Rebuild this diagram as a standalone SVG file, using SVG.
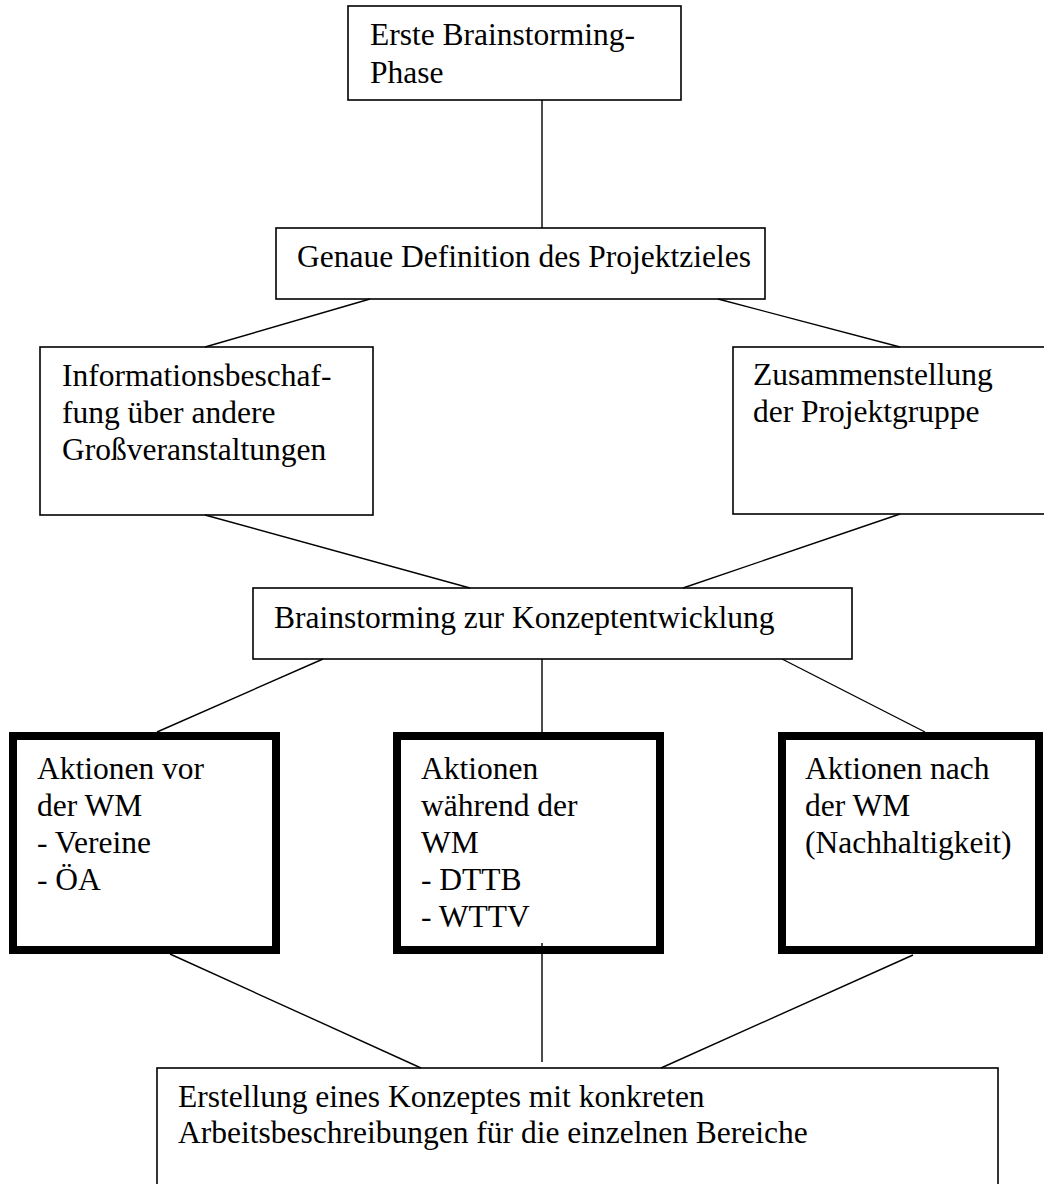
<svg xmlns="http://www.w3.org/2000/svg" width="1044" height="1184" viewBox="0 0 1044 1184">
<style>
.box{fill:#fff;stroke:#000;stroke-width:1.6}
.thick{fill:#fff;stroke:#000;stroke-width:8}
.t{font-family:"Liberation Serif","Times New Roman",serif;font-size:31.5px;fill:#000}
.c{stroke:#000;stroke-width:1.4;fill:none}
</style>
<rect width="1044" height="1184" fill="#fff"/>
<g id="n1"><rect class="box" x="348" y="6" width="333" height="94"/>
<text class="t" x="370" y="45">Erste Brainstorming-</text><text class="t" x="370" y="83">Phase</text></g>
<g id="n2"><rect class="box" x="276" y="228" width="489" height="71"/>
<text class="t" x="297" y="267">Genaue Definition des Projektzieles</text></g>
<g id="n3"><rect class="box" x="40" y="347" width="333" height="168"/>
<text class="t" x="62" y="386">Informationsbeschaf-</text><text class="t" x="62" y="423">fung über andere</text><text class="t" x="62" y="460">Großveranstaltungen</text></g>
<g id="n4"><rect class="box" x="733" y="347" width="320" height="167"/>
<text class="t" x="753" y="385">Zusammenstellung</text><text class="t" x="753" y="422">der Projektgruppe</text></g>
<g id="n5"><rect class="box" x="253" y="588" width="599" height="71"/>
<text class="t" x="274" y="628">Brainstorming zur Konzeptentwicklung</text></g>
<g id="n6"><rect class="thick" x="13" y="736" width="263" height="214"/>
<text class="t" x="37" y="779">Aktionen vor</text><text class="t" x="37" y="816">der WM</text><text class="t" x="37" y="853">- Vereine</text><text class="t" x="37" y="890">- ÖA</text></g>
<g id="n7"><rect class="thick" x="397" y="736" width="263" height="214"/>
<text class="t" x="421" y="779">Aktionen</text><text class="t" x="421" y="816">während der</text><text class="t" x="421" y="853">WM</text><text class="t" x="421" y="890">- DTTB</text><text class="t" x="421" y="927">- WTTV</text></g>
<g id="n8"><rect class="thick" x="782" y="736" width="257" height="214"/>
<text class="t" x="805" y="779">Aktionen nach</text><text class="t" x="805" y="816">der WM</text><text class="t" x="805" y="853">(Nachhaltigkeit)</text></g>
<g id="n9"><rect class="box" x="157" y="1068" width="841" height="140"/>
<text class="t" x="178" y="1107">Erstellung eines Konzeptes mit konkreten</text><text class="t" x="178" y="1143">Arbeitsbeschreibungen für die einzelnen Bereiche</text></g>
<g id="connectors">
<line class="c" x1="542" y1="100" x2="542" y2="228"/>
<line class="c" x1="370" y1="299" x2="205" y2="347"/>
<line class="c" x1="718" y1="299" x2="900" y2="347"/>
<line class="c" x1="205" y1="515" x2="470" y2="588"/>
<line class="c" x1="900" y1="514" x2="683" y2="588"/>
<line class="c" x1="323" y1="659" x2="157" y2="732"/>
<line class="c" x1="542" y1="659" x2="542" y2="732"/>
<line class="c" x1="782" y1="659" x2="925" y2="732"/>
<line class="c" x1="170" y1="954" x2="421" y2="1068"/>
<line class="c" x1="542" y1="943" x2="542" y2="1062"/>
<line class="c" x1="913" y1="955" x2="661" y2="1068"/>
</g>
</svg>
